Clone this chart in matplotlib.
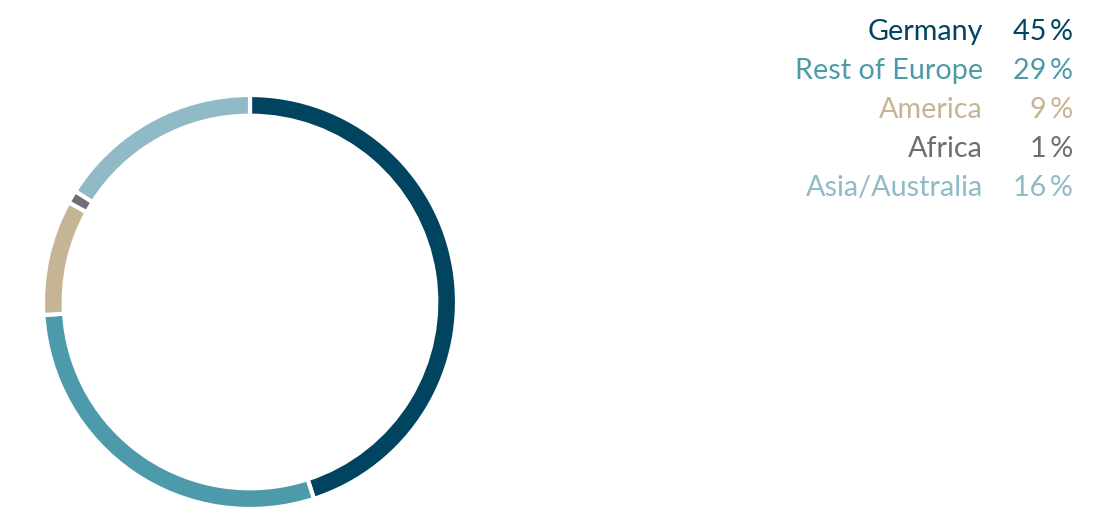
import matplotlib
matplotlib.use('Agg')
import matplotlib.pyplot as plt

regions = ['Germany', 'Rest of Europe', 'America', 'Africa', 'Asia/Australia']
shares = [45, 29, 9, 1, 16]
colors = ['#00445f', '#4d9baa', '#c6b594', '#6e6e73', '#8fbac6']

plt.rcParams['font.family'] = ['Lato', 'DejaVu Sans']

fig = plt.figure(figsize=(11.2, 5.2), dpi=100)

# donut on the left
ax = fig.add_axes([43 / 1120, 11 / 520, 414 / 1120, 414 / 520])
ax.pie(shares, colors=colors, startangle=90, counterclock=False, radius=1,
       wedgeprops=dict(width=0.1, edgecolor='white', linewidth=3))
ax.set_xlim(-1, 1)
ax.set_ylim(-1, 1)
ax.set_aspect('equal')
ax.axis('off')

# legend as plain text, right aligned
for i, (name, val, c) in enumerate(zip(regions, shares, colors)):
    y = 1 - (40 + i * 39) / 520
    fig.text(983 / 1120, y, name, color=c, fontsize=20.7, ha='right', va='baseline')
    fig.text(1073 / 1120, y, f'{val}\u2009%', color=c, fontsize=20.7, ha='right', va='baseline')

fig.savefig('out.png', dpi=100, facecolor='white')
